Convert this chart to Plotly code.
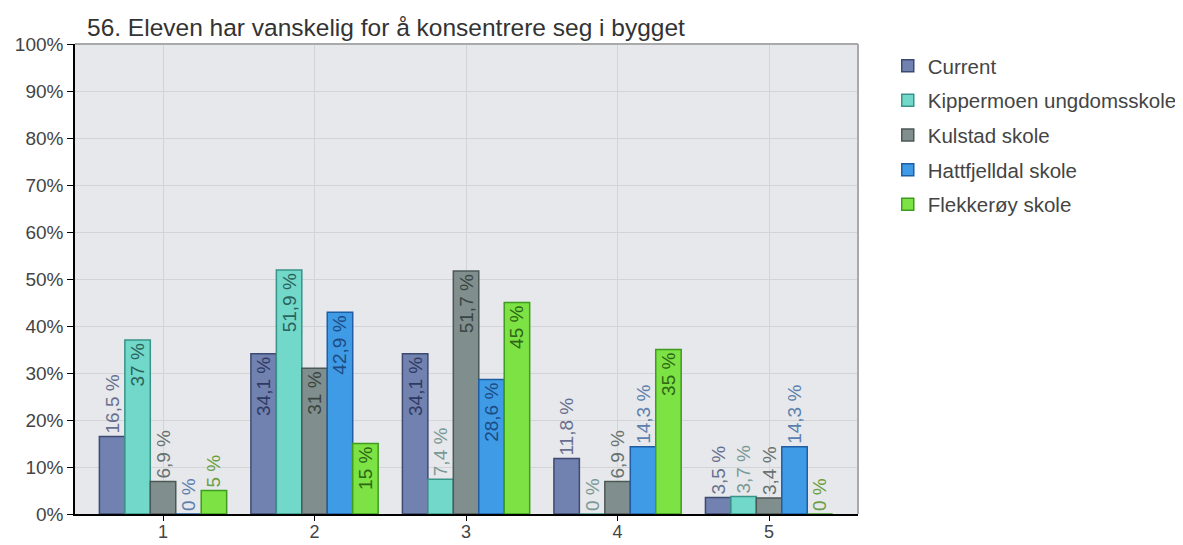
import plotly.graph_objects as go

categories = [1, 2, 3, 4, 5]
tick_labels = ["1", "2", "3", "4", "5"]
series_names = ["Current", "Kippermoen ungdomsskole", "Kulstad skole",
                "Hattfjelldal skole", "Flekkerøy skole"]
current = [16.5, 34.1, 34.1, 11.8, 3.5]
kippermoen = [37, 51.9, 7.4, 0, 3.7]
kulstad = [6.9, 31, 51.7, 6.9, 3.4]
hattfjelldal = [0, 42.9, 28.6, 14.3, 14.3]
flekkeroy = [5, 15, 45, 35, 0]
y_ticks = [0, 10, 20, 30, 40, 50, 60, 70, 80, 90, 100]

series_values = [current, kippermoen, kulstad, hattfjelldal, flekkeroy]
fills = ["#7181b0", "#72d8c9", "#808f8d", "#3f9be6", "#7de244"]
borders = ["#3e4a72", "#3a9389", "#4c5856", "#1f5ea3", "#3f9c1f"]
inside_colors = ["#2f3a62", "#2a625c", "#3a4442", "#1d4b84", "#2d6616"]
outside_colors = ["#687090", "#7a9895", "#687270", "#5c80ad", "#6a9e42"]

FONT = "Liberation Sans, Arial, sans-serif"

# page body has an 8px default margin: size the figure to fit the window
W, H = 1175, 537


def fmt(v):
    return f"{v:g}".replace(".", ",") + " %"


fig = go.Figure()
for name, vals, fc, bc, ic, oc in zip(series_names, series_values, fills,
                                       borders, inside_colors, outside_colors):
    labels = [fmt(v) for v in vals]
    pos = ["inside" if (v >= 20 or (v >= 15 and len(t) <= 4)) else "outside"
           for v, t in zip(vals, labels)]
    fig.add_trace(go.Bar(
        x=categories, y=vals, name=name, legendgroup=name,
        text=labels, textposition=pos, textangle=-90,
        insidetextanchor="end", constraintext="none",
        insidetextfont=dict(family=FONT, size=19, color=ic),
        outsidetextfont=dict(family=FONT, size=19, color=oc),
        marker=dict(color=fc, line=dict(color=bc, width=1.5)),
        cliponaxis=False,
    ))

fig.update_layout(
    width=W, height=H,
    margin=dict(l=67, r=325, t=36, b=31, autoexpand=False),
    paper_bgcolor="white",
    plot_bgcolor="#e6e8eb",
    barmode="group",
    bargap=0.16, bargroupgap=0,
    font=dict(family=FONT, size=19, color="#444444"),
    title=dict(text="56. Eleven har vanskelig for å konsentrere seg i bygget",
               x=79 / W, xanchor="left", xref="container",
               y=1 - 19 / H, yanchor="middle", yref="container",
               pad=dict(l=0, r=0, t=0, b=0),
               font=dict(family=FONT, size=24.5, color="#333333")),
    legend=dict(x=1.038, xanchor="left", y=0.996, yanchor="top",
                traceorder="grouped", tracegroupgap=5,
                font=dict(family=FONT, size=20.5, color="#444444"),
                bgcolor="rgba(0,0,0,0)"),
    showlegend=True,
)

fig.update_xaxes(
    range=[0.419, 5.587], tickvals=categories, ticktext=tick_labels,
    showgrid=True, gridcolor="#d2d4d6", gridwidth=1,
    showline=True, linecolor="black", linewidth=1.5,
    ticks="outside", ticklen=5, tickcolor="black", automargin=False,
    ticklabelstandoff=-4,
    zeroline=False, tickfont=dict(size=18, color="#444444"),
)
fig.update_yaxes(
    range=[0, 100], tickvals=y_ticks, ticktext=[f"{t}%" for t in y_ticks],
    showgrid=True, gridcolor="#d2d4d6", gridwidth=1,
    showline=True, linecolor="black", linewidth=1.5,
    ticks="outside", ticklen=6, tickcolor="black", automargin=False,
    zeroline=False, tickfont=dict(size=19, color="#444444"),
)

fig.add_shape(type="line", xref="x domain", yref="y domain",
              x0=0, x1=1, y0=1, y1=1, line=dict(color="#a9a9a9", width=2))
fig.add_shape(type="line", xref="x domain", yref="y domain",
              x0=1, x1=1, y0=0, y1=1, line=dict(color="#a9a9a9", width=2))

fig.write_html("out.html")
